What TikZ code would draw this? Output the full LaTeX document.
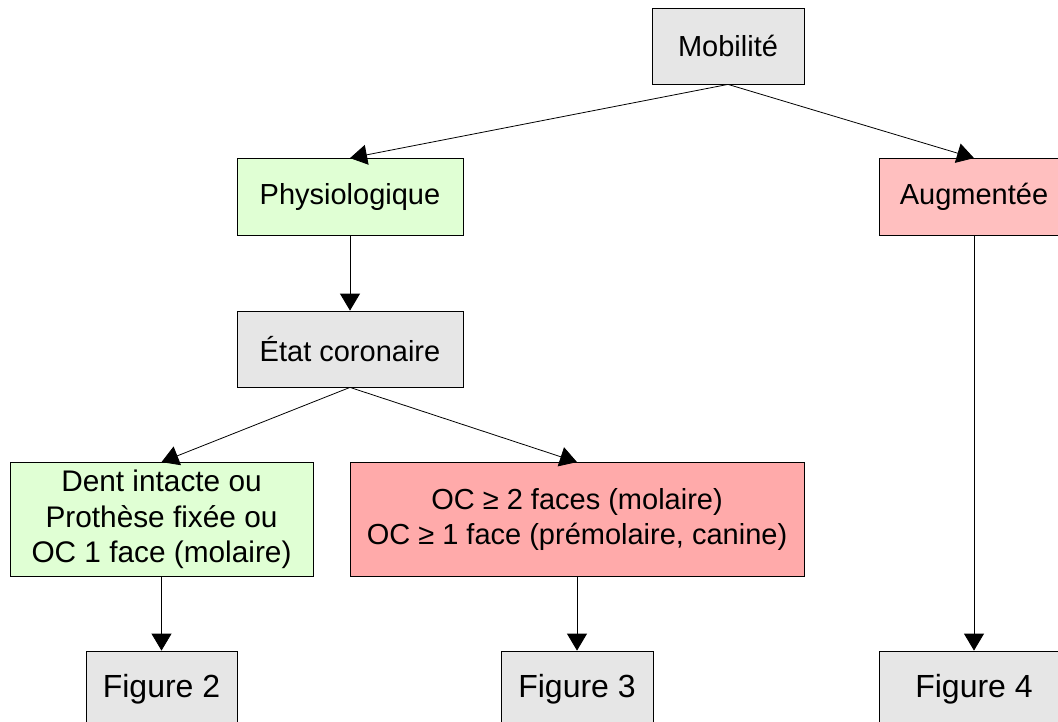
\documentclass[tikz,border=0pt]{standalone}
\usepackage{fontspec}
\setmainfont{Liberation Sans}
\usetikzlibrary{arrows.meta}
\definecolor{grayfill}{HTML}{E6E6E6}
\definecolor{greenfill}{HTML}{E0FFD4}
\definecolor{pinklight}{HTML}{FFBFBF}
\definecolor{pinkfill}{HTML}{FFAAAA}
\begin{document}
\begin{tikzpicture}[x=1pt,y=-1pt,
  box/.style={draw=black, line width=0.8pt, inner sep=0pt, align=center,
    font=\fontsize{29}{35.5}\selectfont},
  grey/.style={box, fill=grayfill},
  green/.style={box, fill=greenfill},
  pinkA/.style={box, fill=pinklight},
  pinkB/.style={box, fill=pinkfill},
  figbox/.style={grey, font=\fontsize{32}{36}\selectfont},
  arr/.style={line width=0.8pt, -{Triangle[length=17pt,width=20pt]}}]
\useasboundingbox (0,0) rectangle (1058,722);
\clip (0,0) rectangle (1058,722);
\fill[white] (0,0) rectangle (1058,722);
\node[grey, minimum width=152pt, minimum height=76pt] (mob) at (728,46) {Mobilité};
\node[green, minimum width=226pt, minimum height=77pt] (phys) at (350,197) {Physiologique};
\node[pinkA, minimum width=190pt, minimum height=77pt] (aug) at (974,197) {Augmentée};
\node[grey, minimum width=226pt, minimum height=76pt] (etat) at (350,349) {État coronaire};
\node[green, minimum width=303pt, minimum height=114pt, font=\fontsize{29.8}{35.5}\selectfont] (dent) at (161.5,519.5) {Dent intacte ou\\Prothèse fixée ou\\OC 1 face (molaire)};
\node[pinkB, minimum width=454pt, minimum height=114pt] (oc) at (577,519.5) {OC ≥ 2 faces (molaire)\\OC ≥ 1 face (prémolaire, canine)};
\node[figbox, minimum width=151pt, minimum height=76pt] (fig2) at (161.5,689) {Figure 2};
\node[figbox, minimum width=152pt, minimum height=76pt] (fig3) at (577,689) {Figure 3};
\node[figbox, minimum width=190pt, minimum height=76pt] (fig4) at (974,689) {Figure 4};
\draw[arr] (mob.south) -- (phys.north);
\draw[arr] (mob.south) -- (aug.north);
\draw[arr] (phys.south) -- (etat.north);
\draw[arr] (etat.south) -- (dent.north);
\draw[arr] (etat.south) -- (oc.north);
\draw[arr] (dent.south) -- (fig2.north);
\draw[arr] (oc.south) -- (fig3.north);
\draw[arr] (aug.south) -- (fig4.north);
\end{tikzpicture}
\end{document}
